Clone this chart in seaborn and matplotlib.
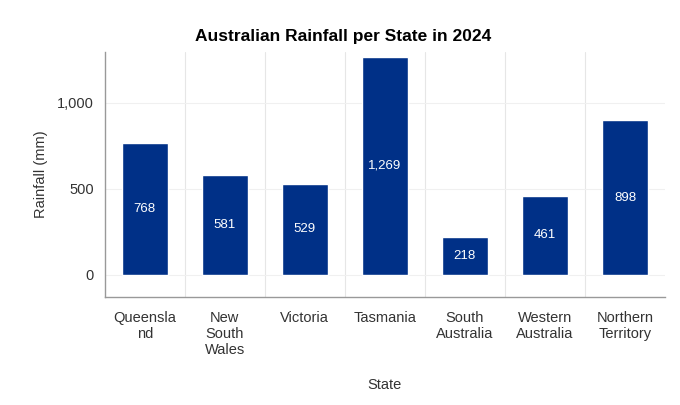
import seaborn as sns
import pandas as pd
import matplotlib.pyplot as plt
from matplotlib.ticker import FuncFormatter, FixedLocator

states = ['Queensland', 'New South Wales', 'Victoria', 'Tasmania',
          'South Australia', 'Western Australia', 'Northern Territory']
tick_labels = ['Queensla\nnd', 'New\nSouth\nWales', 'Victoria', 'Tasmania',
               'South\nAustralia', 'Western\nAustralia', 'Northern\nTerritory']
rainfall = [768, 581, 529, 1269, 218, 461, 898]

df = pd.DataFrame({'state': states, 'rainfall': rainfall})

sns.set_style('white')
plt.rcParams['font.family'] = ['Liberation Sans', 'DejaVu Sans']

fig = plt.figure(figsize=(6.8, 4.05), dpi=100)
ax = fig.add_axes([0.154, 0.267, 0.824, 0.605])

sns.barplot(x='state', y='rainfall', data=df, ax=ax, color='#003087',
            width=0.57, saturation=1)

for i, v in enumerate(rainfall):
    ax.text(i, v / 2, f'{v:,}', ha='center', va='center', color='white', fontsize=9.5)

ax.set_ylim(-128, 1297)
ax.set_xlim(-0.5, 6.5)
ax.set_yticks([0, 500, 1000])
ax.yaxis.set_major_formatter(FuncFormatter(lambda v, p: f'{int(v):,}'))
ax.set_xticks(range(len(states)))
ax.set_xticklabels(tick_labels, fontsize=10.5, color='#333333')
ax.tick_params(axis='y', labelsize=10.5, labelcolor='#333333', length=0, pad=8)
ax.tick_params(axis='x', length=4, color='#999999', pad=6)

ax.xaxis.set_minor_locator(FixedLocator([i + 0.5 for i in range(len(states) - 1)]))
ax.grid(axis='x', which='minor', color='#e6e6e6', linewidth=0.8)
ax.grid(axis='y', which='major', color='#f0f0f0', linewidth=0.8)
ax.tick_params(axis='x', which='minor', length=0)
ax.set_axisbelow(True)

for s in ['top', 'right']:
    ax.spines[s].set_visible(False)
for s in ['left', 'bottom']:
    ax.spines[s].set_color('#999999')
    ax.spines[s].set_linewidth(1)

fig.suptitle('Australian Rainfall per State in 2024', fontweight='bold', fontsize=12.5,
             color='black', x=0.505, y=0.909, va='center')
ax.set_xlabel('State', fontsize=10.5, color='#333333', labelpad=15)
ax.set_ylabel('Rainfall (mm)', fontsize=10.5, color='#333333', labelpad=6)

fig.savefig('out.png', dpi=100)
